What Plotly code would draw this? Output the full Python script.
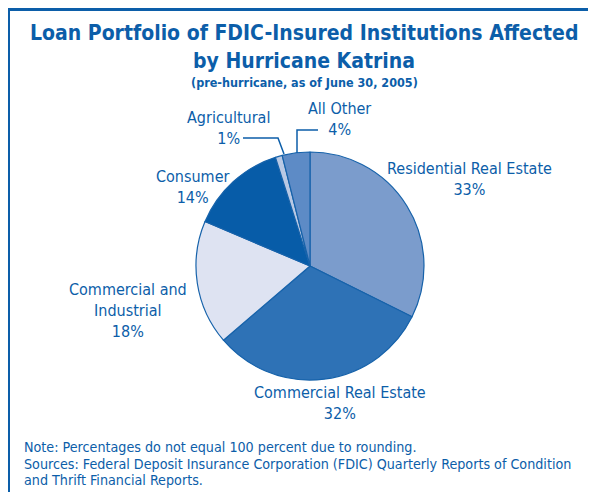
import plotly.graph_objects as go

categories = ["Residential Real Estate", "Commercial Real Estate", "Commercial and Industrial",
              "Consumer", "Agricultural", "All Other"]
shares = [33, 32, 18, 14, 1, 4]
slice_colors = ["#7b9ccc", "#2e72b6", "#dee3f2", "#075ca8", "#b9c9e4", "#5d8bc6"]
label_texts = ["Residential Real Estate<br>33%", "Commercial Real Estate<br>32%",
               "Commercial and<br>Industrial<br>18%", "Consumer<br>14%",
               "Agricultural<br>1%", "All Other<br>4%"]
note_lines = ["Note: Percentages do not equal 100 percent due to rounding.",
              "Sources: Federal Deposit Insurance Corporation (FDIC) Quarterly Reports of Condition",
              "and Thrift Financial Reports."]

# page body has an 8px margin; keep the figure inside the window (no scrollbars)
OFF = 8
W, H = 596 - OFF, 500 - 2 * OFF
BLUE = "#0c5ea9"
FONT = "Liberation Sans Narrow, Arial Narrow, DejaVu Sans Condensed, sans-serif"

def px(x):
    return (x - OFF) / W

def py(y):
    return 1 - (y - OFF) / H

cx, cy, r = 310, 266, 114

fig = go.Figure(go.Pie(
    labels=categories, values=shares, sort=False, direction="clockwise", rotation=0,
    marker=dict(colors=slice_colors, line=dict(color="#1662aa", width=1.2)),
    textinfo="none", hoverinfo="none", showlegend=False,
    domain=dict(x=[px(cx - r), px(cx + r)], y=[py(cy + r), py(cy - r)]),
))

annotations = []
def add(text, x, y, size, bold=False, align="center", xanchor="center"):
    annotations.append(dict(
        text=f"<b>{text}</b>" if bold else text, x=px(x), y=py(y), xref="paper", yref="paper",
        showarrow=False, xanchor=xanchor, yanchor="middle", align=align,
        font=dict(family=FONT, size=size, color=BLUE)))

add("Loan Portfolio of FDIC-Insured Institutions Affected", 304, 33, 21, bold=True)
add("by Hurricane Katrina", 304, 61, 21, bold=True)
add("(pre-hurricane, as of June 30, 2005)", 304, 83, 12.5, bold=True)

label_pos = [(469, 179), (340, 403), (128, 310), (192, 187), (228, 128), (339, 119)]
for t, (x, y) in zip(label_texts, label_pos):
    add(t, x, y, 16)

for i, line in enumerate(note_lines):
    add(line, 22, 447 + 16.7 * i, 14.2, align="left", xanchor="left")

shapes = [
    dict(type="line", xref="paper", yref="paper", x0=px(8.5), y0=-0.05, x1=px(8.5), y1=py(8),
         line=dict(color=BLUE, width=3)),
    dict(type="line", xref="paper", yref="paper", x0=px(7), y0=py(9.5), x1=1.05, y1=py(9.5),
         line=dict(color=BLUE, width=3)),
    dict(type="path", xref="paper", yref="paper",
         path=f"M {px(243)} {py(138)} L {px(278)} {py(138)} L {px(284)} {py(154)}",
         line=dict(color=BLUE, width=1.5)),
    dict(type="path", xref="paper", yref="paper",
         path=f"M {px(297)} {py(153)} L {px(297)} {py(130)} L {px(318)} {py(130)}",
         line=dict(color=BLUE, width=1.5)),
]

fig.update_layout(width=W, height=H, margin=dict(l=0, r=0, t=0, b=0),
                  paper_bgcolor="white", plot_bgcolor="white",
                  annotations=annotations, shapes=shapes)
fig.write_html("out.html")
